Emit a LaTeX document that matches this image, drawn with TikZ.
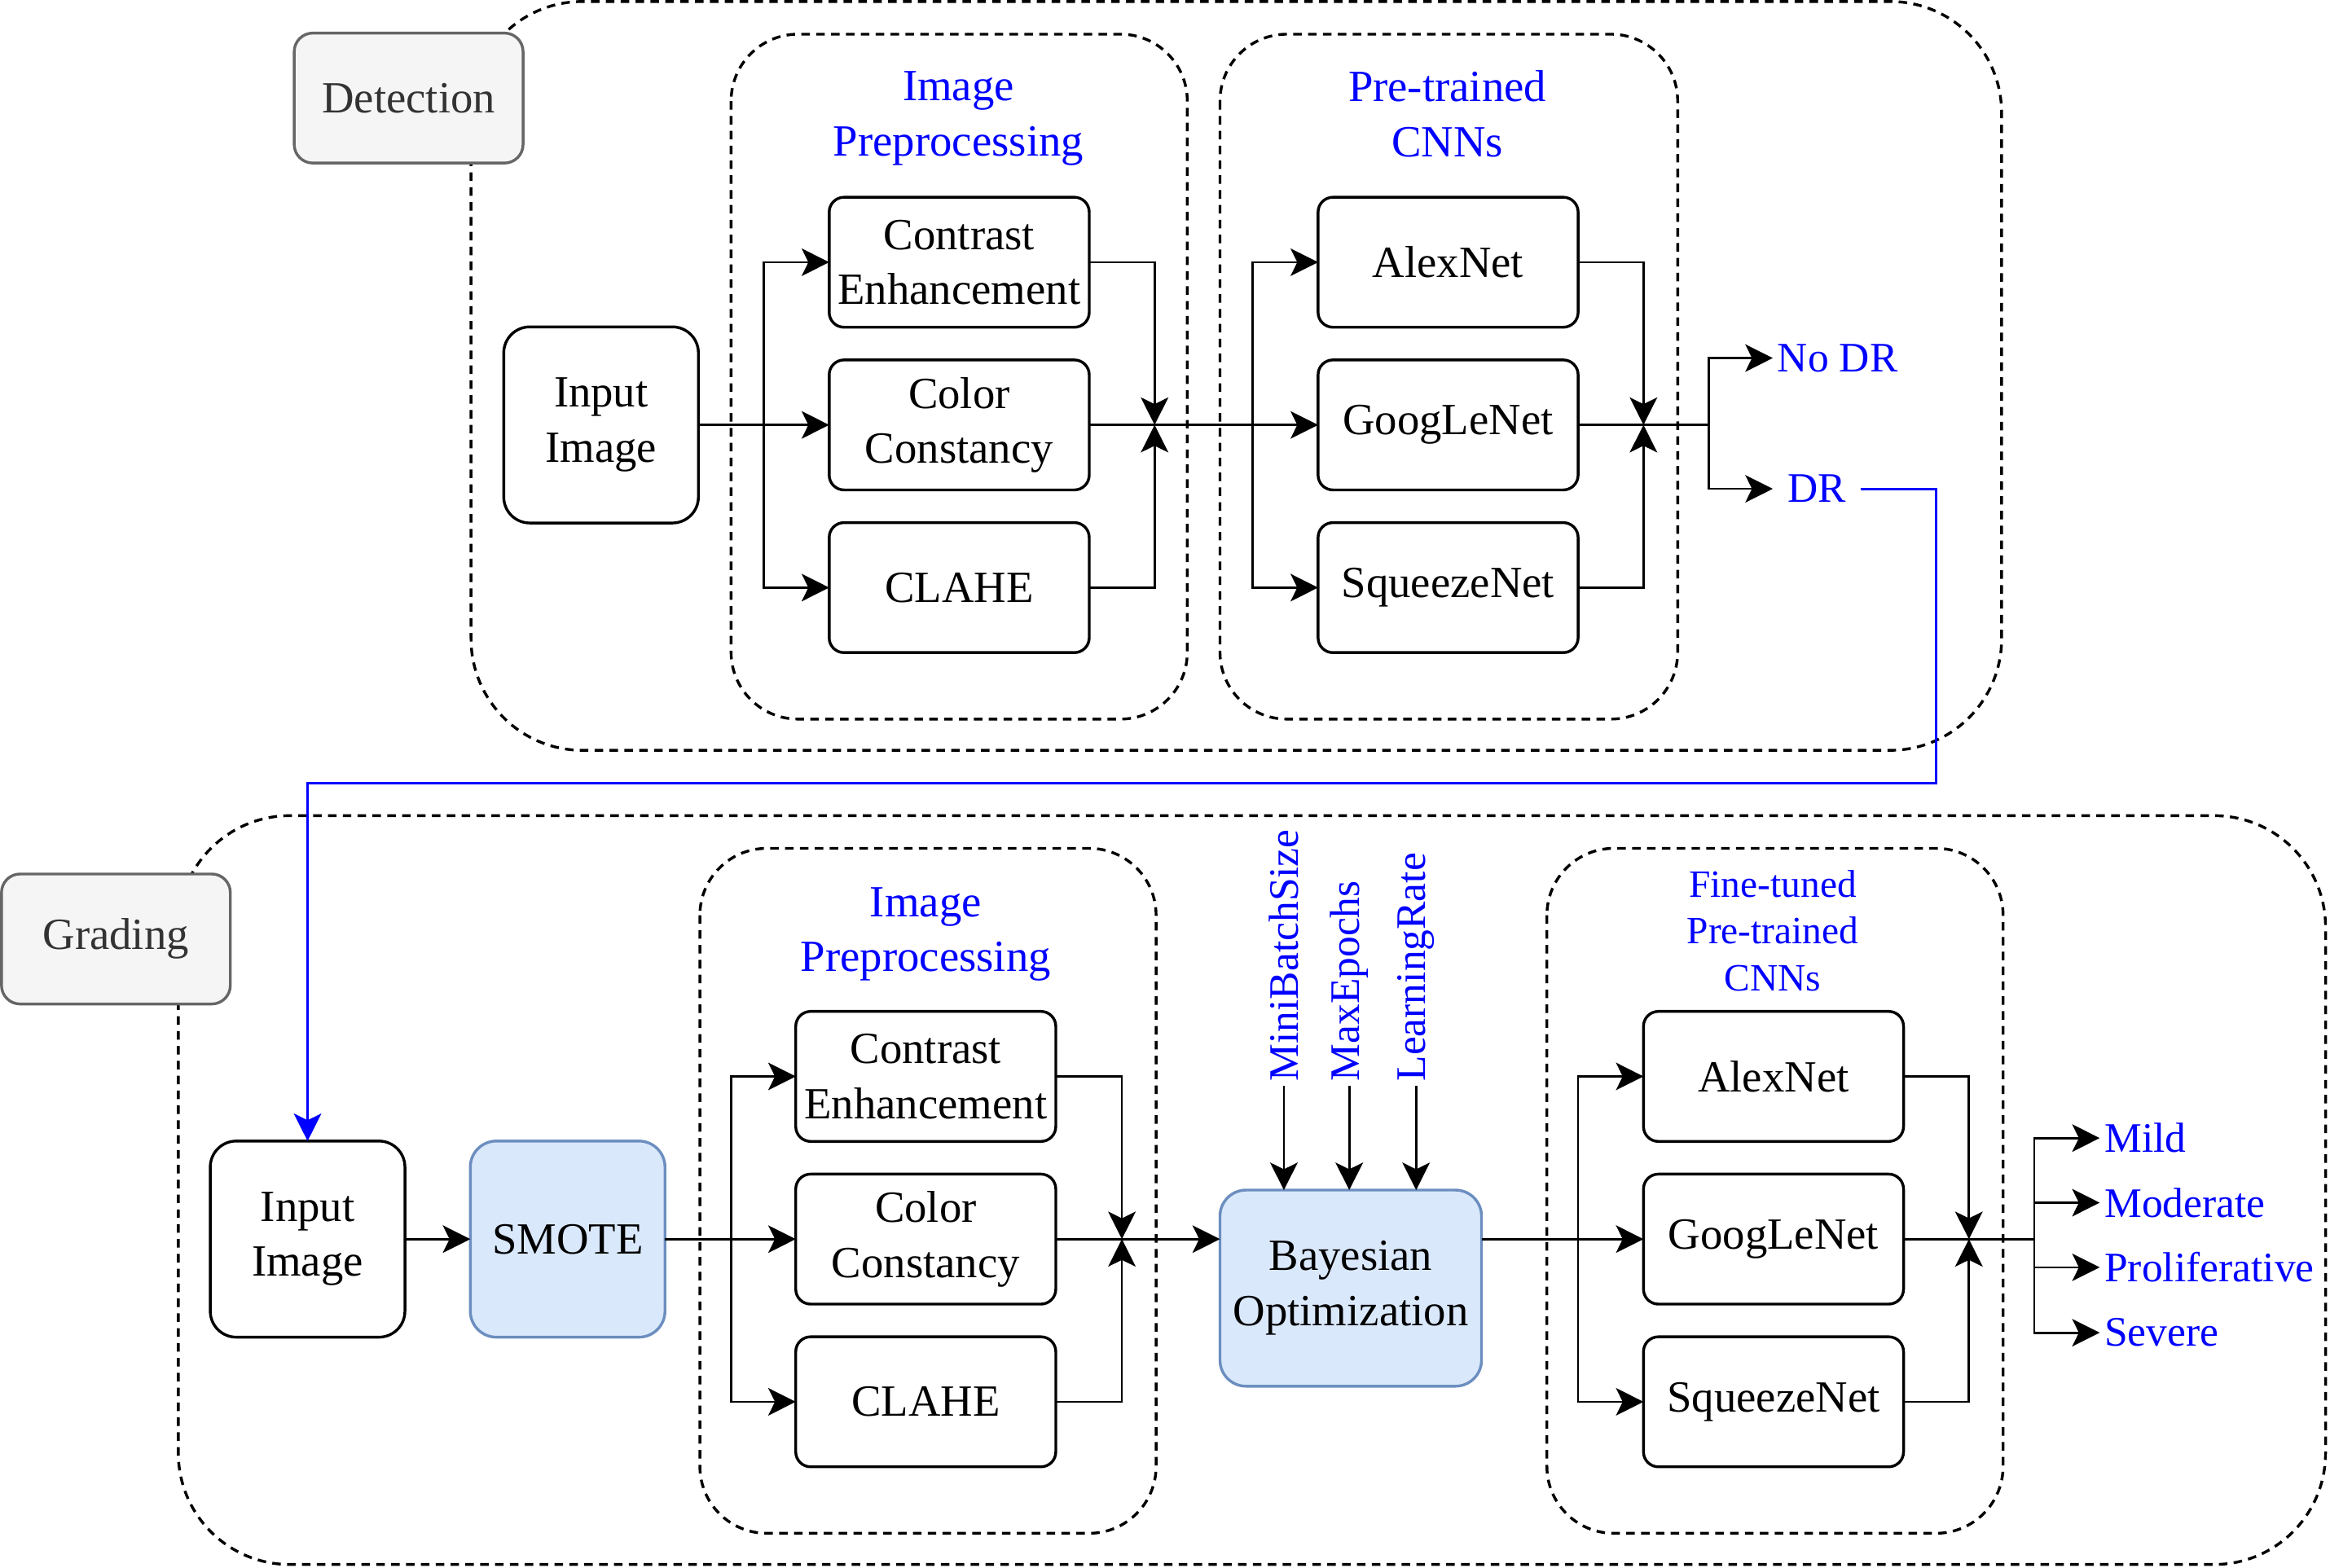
\documentclass[tikz,border=0pt]{standalone}
\usepackage{fontspec}
\setmainfont{Liberation Serif}
\usetikzlibrary{positioning,arrows.meta}
\definecolor{tagFill}{HTML}{F5F5F5}
\definecolor{tagLine}{HTML}{666666}
\definecolor{tagText}{HTML}{333333}
\definecolor{optFill}{HTML}{DAE8FC}
\definecolor{optLine}{HTML}{6C8EBF}
\definecolor{drBlue}{HTML}{0000FF}

\begin{document}
\begin{tikzpicture}[x=0.4pt, y=-0.4pt, line width=0.6pt,
    font=\fontsize{12}{14.8}\selectfont,
    >={Stealth[length=7.4pt,width=7.4pt,inset=1.8pt]},
    node distance=8.8pt,
    block/.style={draw, rounded corners=4pt, line width=0.75pt, minimum width=70pt,
      minimum height=35pt, align=center, inner sep=1pt, outer sep=0pt},
    twoRows/.style={execute at begin node=\rule{0pt}{10.2pt}},
    square/.style={block, rounded corners=7pt, minimum width=52.4pt, minimum height=52.8pt},
    optbox/.style={square, fill=optFill, draw=optLine},
    tag/.style={draw=tagLine, fill=tagFill, text=tagText, rounded corners=5pt,
      line width=0.75pt, minimum width=61.6pt, minimum height=35pt},
    outer/.style={draw, line width=0.75pt, dash pattern=on 2.3pt off 1.7pt, rounded corners=30pt},
    group/.style={outer, rounded corners=18pt},
    title/.style={text=drBlue, align=center, execute at begin node=\strut, execute at end node=\strut},
    outcome/.style={text=drBlue, anchor=west, inner sep=1pt, font=\fontsize{11.3}{13.6}\selectfont},
    param/.style={text=drBlue, rotate=90, anchor=west, inner sep=1pt, font=\fontsize{11.3}{13.6}\selectfont},
  ]
    \useasboundingbox (0,0) rectangle (1568,1055);

    \draw[outer] (317,1) rectangle (1347,505);
    \draw[group] (492,23) rectangle (799,484);
    \draw[group] (821,23) rectangle (1129,484);
    \draw[outer] (120,549) rectangle (1565,1053);
    \draw[group] (471,571) rectangle (778,1032);
    \draw[group] (1041,571) rectangle (1348,1032);

    \node[tag] (detection) at (275,66) {Detection};
    \node[title] (prepTitle) at (645,82) {Image\\Preprocessing};
    \node[title] (cnnTitle) at (974,82) {Pre-trained\\CNNs};

    \node[square, twoRows] (inputImage) at (404.5,286) {Input\\Image};
    \node[block, twoRows, right = 35.2pt of inputImage] (colorConst) {Color\\Constancy};
    \node[block, twoRows, above = of colorConst] (contrast) {Contrast\\Enhancement};
    \node[block, below = of colorConst] (clahe) {CLAHE};
    \node[block, right = 61.6pt of colorConst] (googLeNet) {GoogLeNet};
    \node[block, above = of googLeNet] (alexNet) {AlexNet};
    \node[block, below = of googLeNet] (squeezeNet) {SqueezeNet};
    \node[outcome] (noDR) at (1193,241) {No DR};
    \node[outcome, minimum width=23pt] (dr) at (1193,329) {DR};

    \coordinate (split) at (514,286);
    \coordinate (merge) at (777,286);
    \coordinate (splitCNN) at (843,286);
    \coordinate (mergeCNN) at (1106,286);
    \coordinate (out) at (1150,286);

    \draw[->] (inputImage) -- (colorConst);
    \draw[->] (split) |- (contrast);
    \draw[->] (split) |- (clahe);
    \draw[->] (contrast) -| (merge);
    \draw[->] (clahe) -| (merge);
    \draw[->] (colorConst) -- (googLeNet);
    \draw[->] (splitCNN) |- (alexNet);
    \draw[->] (splitCNN) |- (squeezeNet);
    \draw[->] (alexNet) -| (mergeCNN);
    \draw[->] (squeezeNet) -| (mergeCNN);
    \draw (googLeNet) -- (out);
    \draw[->] (out) |- (noDR);
    \draw[->] (out) |- (dr);

    \node[tag] (grading) at (78,632) {Grading};
    \node[title] (prepTitle') at (623,631) {Image\\Preprocessing};
    \node[title, font=\fontsize{10.4}{12.6}\selectfont] (cnnTitle') at (1193,631) {Fine-tuned\\Pre-trained\\CNNs};

    \node[square, twoRows] (inputImage') at (207,834) {Input\\Image};
    \node[optbox, right = 17.6pt of inputImage'] (smote) {SMOTE};
    \node[block, twoRows, right = 35.2pt of smote] (colorConst') {Color\\Constancy};
    \node[block, twoRows, above = of colorConst'] (contrast') {Contrast\\Enhancement};
    \node[block, below = of colorConst'] (clahe') {CLAHE};
    \node[optbox, twoRows, minimum width=70.4pt] (bayes) at (909,867) {Bayesian\\Optimization};
    \node[param] (miniBatch) at (864,731) {MiniBatchSize};
    \node[param] (maxEpochs) at (908,731) {MaxEpochs};
    \node[param] (learnRate) at (953,731) {LearningRate};
    \node[block] (googLeNet') at (1193.5,834) {GoogLeNet};
    \node[block, above = of googLeNet'] (alexNet') {AlexNet};
    \node[block, below = of googLeNet'] (squeezeNet') {SqueezeNet};
    \node[outcome] (mild) at (1413,766) {Mild};
    \node[outcome] (moderate) at (1413,809.5) {Moderate};
    \node[outcome] (prolif) at (1413,853) {Proliferative};
    \node[outcome] (severe) at (1413,897) {Severe};

    \coordinate (split') at (492,834);
    \coordinate (merge') at (755,834);
    \coordinate (splitCNN') at (1062,834);
    \coordinate (mergeCNN') at (1325,834);
    \coordinate (out') at (1369,834);

    \draw[->, drBlue, line width=0.7pt] (dr.east) -- (1303,329) -- (1303,527) -| (inputImage'.north);
    \draw[->] (inputImage') -- (smote);
    \draw[->] (smote) -- (colorConst');
    \draw[->] (split') |- (contrast');
    \draw[->] (split') |- (clahe');
    \draw[->] (contrast') -| (merge');
    \draw[->] (clahe') -| (merge');
    \draw[->] (colorConst') -- (colorConst' -| bayes.west);
    \draw[->] (miniBatch.west) -- (miniBatch.west |- bayes.north);
    \draw[->] (maxEpochs.west) -- (maxEpochs.west |- bayes.north);
    \draw[->] (learnRate.west) -- (learnRate.west |- bayes.north);
    \draw[->] (bayes.east |- googLeNet') -- (googLeNet');
    \draw[->] (splitCNN') |- (alexNet');
    \draw[->] (splitCNN') |- (squeezeNet');
    \draw[->] (alexNet') -| (mergeCNN');
    \draw[->] (squeezeNet') -| (mergeCNN');
    \draw (googLeNet') -- (out');
    \draw[->] (out') |- (mild);
    \draw[->] (out') |- (moderate);
    \draw[->] (out') |- (prolif);
    \draw[->] (out') |- (severe);
  \end{tikzpicture}
\end{document}
